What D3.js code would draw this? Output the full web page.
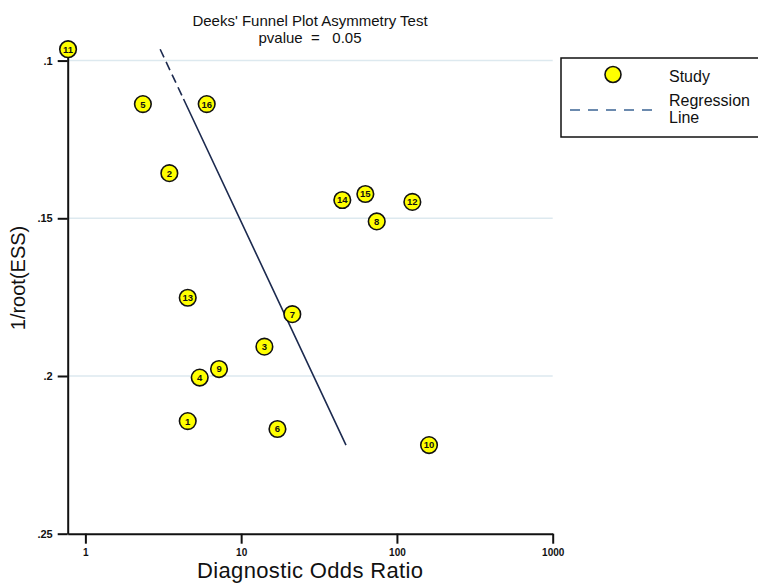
<!DOCTYPE html>
<html lang="en">
<head>
    <meta charset="UTF-8">
    <title>Deeks' Funnel Plot</title>
    <script src="https://d3js.org/d3.v7.min.js"></script>
    <style>
        body { margin: 0; background: #fff; }
        text { font-family: "Liberation Sans", Arial, sans-serif; }
    </style>
</head>
<body>
    <svg id="chart" width="758" height="583"></svg>
    <script>
    // study data
    const studies = ["1", "2", "3", "4", "5", "6", "7", "8", "9", "10", "11", "12", "13", "14", "15", "16"];
    const dor = [4.54, 3.46, 14.1, 5.42, 2.34, 17.1, 21.3, 74.2, 7.21, 160.7, 0.774, 125.6, 4.54, 44.6, 62.7, 6.01];
    const invRootEss = [0.2143, 0.1357, 0.1907, 0.2005, 0.1138, 0.2168, 0.1804, 0.151, 0.1978, 0.2219, 0.0964, 0.1448, 0.1752, 0.1442, 0.1423, 0.1138];

    // regression line end points (dor, 1/root(ESS))
    const regX = [3.02, 47.1];
    const regY = [0.0964, 0.2219];

    const xTicks = [1, 10, 100, 1000];
    const yTicks = [0.1, 0.15, 0.2, 0.25];
    const gridTicks = [0.1, 0.15, 0.2];

    const svg = d3.select("#chart");

    const x = d3.scaleLog().domain([0.77, 1000]).range([67.7, 552.7]);
    const y = d3.scaleLinear().domain([0.095, 0.25]).range([44.8, 533.7]);

    // grid lines
    svg.append("g").selectAll("line")
        .data(gridTicks)
        .enter().append("line")
        .attr("x1", x.range()[0]).attr("x2", x.range()[1])
        .attr("y1", d => y(d)).attr("y2", d => y(d))
        .attr("stroke", "#dde9ef")
        .attr("stroke-width", 1.5);

    // axes
    const xAxis = svg.append("g")
        .attr("transform", `translate(0,${y.range()[1]})`)
        .call(d3.axisBottom(x).tickValues(xTicks).tickFormat(d3.format("d"))
            .tickSize(10).tickSizeOuter(0).tickPadding(5));
    const yAxis = svg.append("g")
        .attr("transform", `translate(${x.range()[0]},0)`)
        .call(d3.axisLeft(y).tickValues(yTicks).tickFormat(d => String(d).replace(/^0/, ""))
            .tickSize(10).tickSizeOuter(0).tickPadding(5));

    [xAxis, yAxis].forEach(a => {
        a.select(".domain").attr("stroke", "#111").attr("stroke-width", 2);
        a.selectAll(".tick line").attr("stroke", "#111").attr("stroke-width", 2);
        a.selectAll(".tick text")
            .attr("fill", "#111")
            .attr("font-family", "'Liberation Sans', Arial, sans-serif")
            .attr("font-weight", "bold")
            .attr("font-size", 11);
    });
    xAxis.selectAll(".tick text").attr("font-size", 10);

    // regression line
    svg.append("line")
        .attr("x1", x(regX[0])).attr("y1", y(regY[0]))
        .attr("x2", x(regX[1])).attr("y2", y(regY[1]))
        .attr("stroke", "#1c2a4f")
        .attr("stroke-width", 1.6)
        .attr("stroke-dasharray", "9,5,9,5,9,5,9,4,600");

    // study points
    const pts = svg.append("g").selectAll("g")
        .data(studies.map((s, i) => ({ id: s, x: dor[i], y: invRootEss[i] })))
        .enter().append("g")
        .attr("transform", d => `translate(${x(d.x)},${y(d.y)})`);

    pts.append("circle")
        .attr("r", 8.3)
        .attr("fill", "#ffff00")
        .attr("stroke", "#111")
        .attr("stroke-width", 1.6);

    pts.append("text")
        .attr("text-anchor", "middle")
        .attr("dy", "0.36em")
        .attr("font-size", 9.5)
        .attr("font-weight", "bold")
        .attr("fill", "#111")
        .text(d => d.id);

    // titles
    svg.append("text")
        .attr("x", 310).attr("y", 26)
        .attr("text-anchor", "middle")
        .attr("font-size", 15)
        .attr("fill", "#111")
        .text("Deeks' Funnel Plot Asymmetry Test");
    svg.append("text")
        .attr("x", 310).attr("y", 43)
        .attr("text-anchor", "middle")
        .attr("font-size", 15)
        .attr("fill", "#111")
        .style("white-space", "pre")
        .text("pvalue  =   0.05");

    svg.append("text")
        .attr("x", 310).attr("y", 578)
        .attr("text-anchor", "middle")
        .attr("font-size", 22)
        .attr("fill", "#111")
        .attr("textLength", 226)
        .text("Diagnostic Odds Ratio");

    svg.append("text")
        .attr("transform", "translate(25,278) rotate(-90)")
        .attr("text-anchor", "middle")
        .attr("font-size", 20)
        .attr("fill", "#111")
        .text("1/root(ESS)");

    // legend
    const legend = svg.append("g").attr("transform", "translate(561,58)");
    legend.append("rect")
        .attr("width", 230).attr("height", 79)
        .attr("fill", "#fff")
        .attr("stroke", "#111")
        .attr("stroke-width", 1.5);
    legend.append("circle")
        .attr("cx", 52).attr("cy", 16.5).attr("r", 8)
        .attr("fill", "#ffff00").attr("stroke", "#111").attr("stroke-width", 1.6);
    legend.append("text")
        .attr("x", 108).attr("y", 24)
        .attr("font-size", 16).attr("fill", "#111")
        .text("Study");
    legend.append("line")
        .attr("x1", 9).attr("x2", 94).attr("y1", 52).attr("y2", 52)
        .attr("stroke", "#3b6494").attr("stroke-width", 1.6)
        .attr("stroke-dasharray", "10,8");
    legend.append("text")
        .attr("x", 108).attr("y", 48)
        .attr("font-size", 16).attr("fill", "#111")
        .text("Regression");
    legend.append("text")
        .attr("x", 108).attr("y", 65)
        .attr("font-size", 16).attr("fill", "#111")
        .text("Line");
    </script>
</body>
</html>
